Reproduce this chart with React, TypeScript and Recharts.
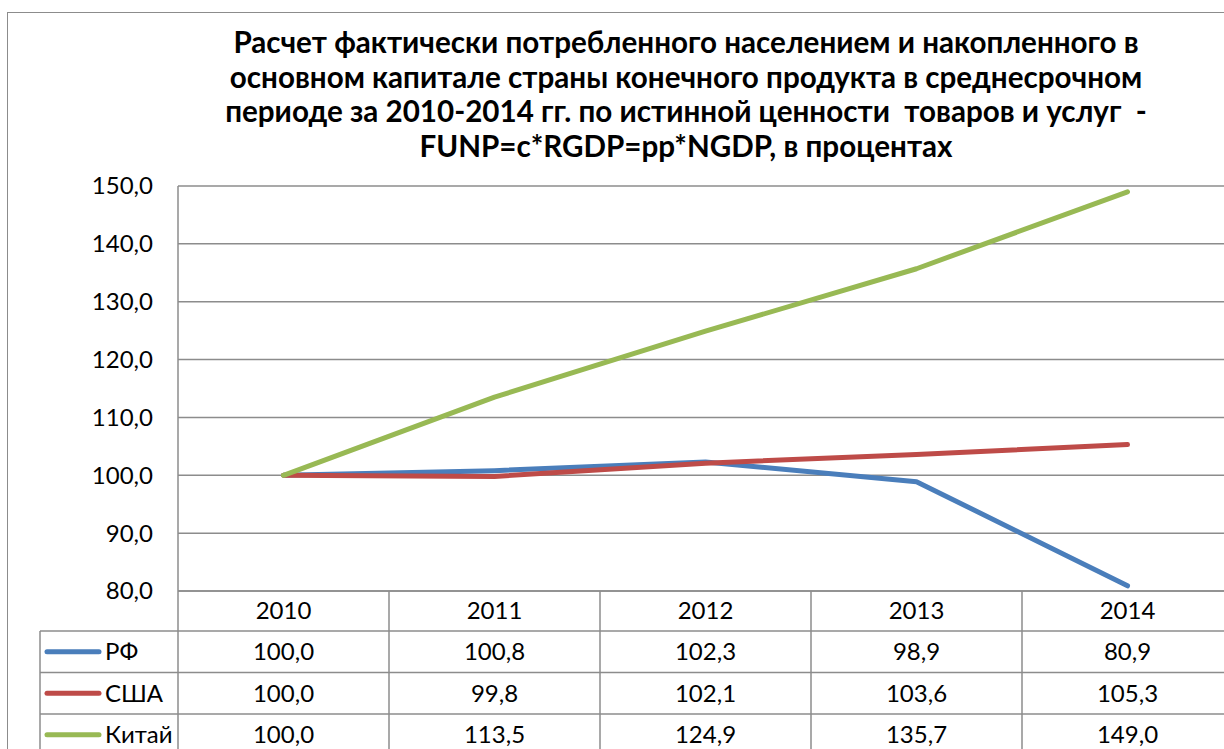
import { LineChart, Line, XAxis, YAxis, CartesianGrid } from 'recharts';

const years = ['2010', '2011', '2012', '2013', '2014'];
const rfValues = [100.0, 100.8, 102.3, 98.9, 80.9];
const usaValues = [100.0, 99.8, 102.1, 103.6, 105.3];
const chinaValues = [100.0, 113.5, 124.9, 135.7, 149.0];
const yTicks = [80, 90, 100, 110, 120, 130, 140, 150];
const titleLines = [
    'Расчет фактически потребленного населением и накопленного в',
    'основном капитале страны конечного продукта в среднесрочном',
    'периоде за 2010-2014 гг. по истинной ценности  товаров и услуг  -',
    'FUNP=c*RGDP=pp*NGDP, в процентах',
];

const series = [
    { key: 'rf', name: 'РФ', values: rfValues, color: '#4A7EBB' },
    { key: 'usa', name: 'США', values: usaValues, color: '#BE4B48' },
    { key: 'china', name: 'Китай', values: chinaValues, color: '#98B954' },
];

const data = years.map((year, i) => ({
    year,
    rf: rfValues[i],
    usa: usaValues[i],
    china: chinaValues[i],
}));

// layout
const W = 1240;
const H = 760;
const PLOT_TOP = 186;
const PLOT_LEFT = 178;
const PLOT_BOTTOM = 591;
const CELL = 211;
const HEADER_H = 40;
const ROW_H = 41.5;
const LEGEND_LEFT = 40;
const GRID = '#8c8c8c';
const FONT = 'Lato, "Open Sans", sans-serif';
const TEXT_SIZE = 24;

const fmt = (v: number) => v.toFixed(1).replace('.', ',');

const YTick = (props: any) => {
    const { x, y, payload } = props;
    return (
        <text x={x} y={y} dy="0.35em" textAnchor="end" fontSize={TEXT_SIZE} fontFamily={FONT} fill="#000">
            {fmt(payload.value)}
        </text>
    );
};

const TableColumn = (props: any) => {
    const { x, y, index } = props;
    const half = CELL / 2;
    const left = x - half;
    const right = x + half;
    const rowTop = (r: number) => y + HEADER_H + r * ROW_H;
    return (
        <g>
            <line x1={right} y1={y} x2={right} y2={H} stroke={GRID} strokeWidth={1.5} />
            {index === 0 && <line x1={left} y1={y} x2={left} y2={H} stroke={GRID} strokeWidth={1.5} />}
            {series.map((s, r) => (
                <line key={s.key} x1={left} y1={rowTop(r)} x2={right} y2={rowTop(r)} stroke={GRID} strokeWidth={1.5} />
            ))}
            <text x={x} y={y + HEADER_H / 2} dy="0.35em" textAnchor="middle" fontSize={TEXT_SIZE} fontFamily={FONT}>
                {years[index]}
            </text>
            {series.map((s, r) => (
                <text key={s.key} x={x} y={rowTop(r) + ROW_H / 2} dy="0.35em" textAnchor="middle" fontSize={TEXT_SIZE} fontFamily={FONT}>
                    {fmt(s.values[index])}
                </text>
            ))}
            {index === 0 && (
                <g>
                    <line x1={LEGEND_LEFT} y1={rowTop(0)} x2={LEGEND_LEFT} y2={H} stroke={GRID} strokeWidth={1.5} />
                    {series.map((s, r) => (
                        <g key={s.key}>
                            <line x1={LEGEND_LEFT} y1={rowTop(r)} x2={left} y2={rowTop(r)} stroke={GRID} strokeWidth={1.5} />
                            <line x1={LEGEND_LEFT + 7} y1={rowTop(r) + ROW_H / 2} x2={LEGEND_LEFT + 59} y2={rowTop(r) + ROW_H / 2} stroke={s.color} strokeWidth={5} strokeLinecap="round" />
                            <text x={LEGEND_LEFT + 65} y={rowTop(r) + ROW_H / 2} dy="0.35em" fontSize={TEXT_SIZE} fontFamily={FONT}>
                                {s.name}
                            </text>
                        </g>
                    ))}
                </g>
            )}
        </g>
    );
};

export default function App() {
    return (
        <div style={{ position: 'fixed', left: 0, top: 0, width: 1224, height: 749, overflow: 'hidden', background: '#fff' }}>
            <div style={{ position: 'absolute', left: 7, top: 12, width: 1400, height: 900, border: `1.5px solid ${GRID}` }} />
            <div
                style={{
                    position: 'absolute',
                    left: 86,
                    top: 25,
                    width: 1200,
                    textAlign: 'center',
                    fontFamily: FONT,
                    fontWeight: 700,
                    fontSize: 29.6,
                    lineHeight: '34.5px',
                    whiteSpace: 'pre',
                }}
            >
                {titleLines.map((l) => (
                    <div key={l}>{l}</div>
                ))}
            </div>
            <div style={{ position: 'absolute', left: 0, top: 0 }}>
                <LineChart width={W} height={H} data={data} margin={{ top: PLOT_TOP, right: W - PLOT_LEFT - CELL * years.length, left: PLOT_LEFT - 60, bottom: 0 }}>
                    <CartesianGrid vertical={false} stroke={GRID} strokeWidth={1.5} />
                    <XAxis
                        dataKey="year"
                        scale="band"
                        interval={0}
                        height={H - PLOT_BOTTOM}
                        tickSize={0}
                        tickMargin={0}
                        axisLine={{ stroke: GRID, strokeWidth: 1.5 }}
                        tick={(p: any) => <TableColumn {...p} />}
                    />
                    <YAxis
                        width={60}
                        domain={[80, 150]}
                        ticks={yTicks}
                        interval={0}
                        tickSize={0}
                        tickMargin={25}
                        axisLine={{ stroke: GRID, strokeWidth: 1.5 }}
                        tick={(p: any) => <YTick {...p} />}
                    />
                    {series.map((s) => (
                        <Line
                            key={s.key}
                            dataKey={s.key}
                            name={s.name}
                            stroke={s.color}
                            strokeWidth={5}
                            strokeLinecap="round"
                            strokeLinejoin="round"
                            dot={false}
                            isAnimationActive={false}
                            type="linear"
                        />
                    ))}
                </LineChart>
            </div>
        </div>
    );
}
